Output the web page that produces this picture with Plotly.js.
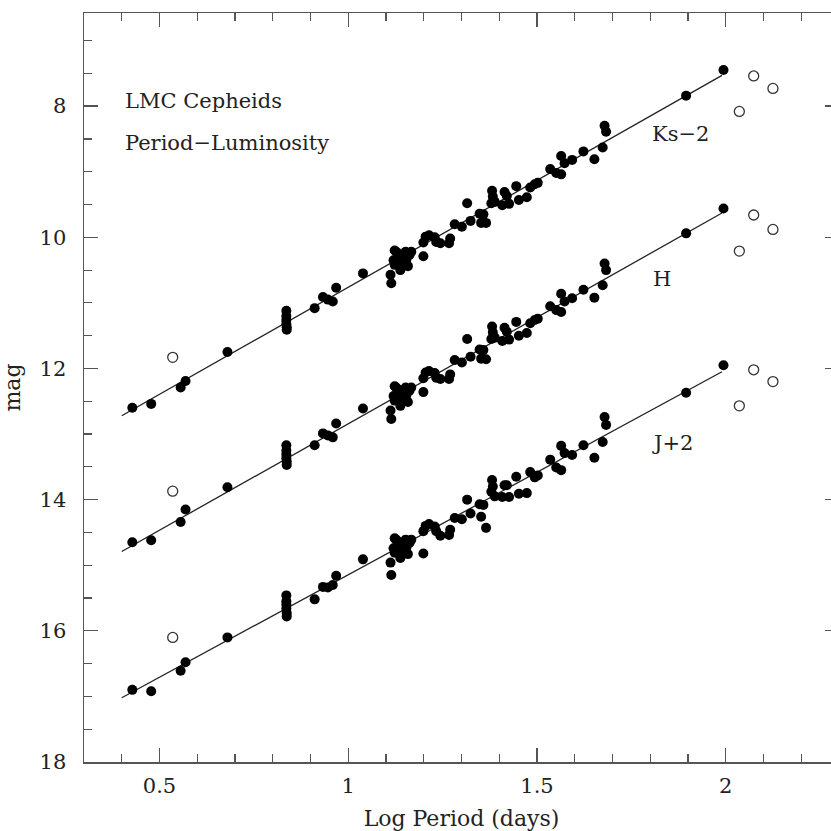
<!DOCTYPE html>
<html>
<head>
<meta charset="utf-8">
<script src="https://cdn.plot.ly/plotly-3.0.1.min.js"></script>
<style>
html,body{margin:0;padding:0;overflow:hidden;background:#fff;width:831px;height:831px;}
#wrap{width:831px;height:831px;overflow:hidden;position:relative;}
#chart{width:845px;height:831px;position:absolute;left:0;top:0;}
</style>
</head>
<body>
<div id="wrap"><div id="chart"></div></div>
<script>
// Log period of each Cepheid (same stars in all three bands)
const logP = [0.428,0.478,0.556,0.569,0.680,
  0.836,0.836,0.836,0.836,0.837,0.837,
  0.911,0.933,0.946,0.959,0.968,1.039,
  1.112,1.114,1.123,1.127,1.134,1.138,1.143,1.152,1.158,1.162,1.146,1.131,1.120,1.140,1.123,1.154,1.167,
  1.199,1.199,1.205,1.214,1.229,1.233,1.244,1.267,1.270,1.282,1.301,1.315,1.324,1.348,1.352,1.358,1.365,
  1.381,1.383,1.379,1.388,1.408,1.414,1.420,1.426,1.445,1.452,1.473,1.482,1.494,1.502,
  1.535,1.551,1.564,1.573,1.564,1.593,1.623,1.652,1.674,1.679,1.683,1.895,1.994];
// Ks - 2 magnitudes
const magKs = [12.60,12.54,12.29,12.19,11.75,
  11.12,11.20,11.26,11.32,11.37,11.41,
  11.08,10.91,10.95,10.98,10.77,10.55,
  10.57,10.70,10.42,10.22,10.35,10.50,10.26,10.22,10.44,10.27,10.37,10.29,10.35,10.32,10.20,10.34,10.22,
  10.08,10.29,9.99,9.97,10.00,10.07,10.09,10.09,10.02,9.80,9.84,9.48,9.75,9.64,9.78,9.65,9.78,
  9.29,9.38,9.48,9.46,9.51,9.31,9.37,9.49,9.22,9.43,9.39,9.24,9.19,9.17,
  8.96,9.02,8.76,8.87,9.04,8.82,8.69,8.81,8.63,8.30,8.39,7.84,7.45];
// H magnitudes
const magH = [14.65,14.62,14.34,14.15,13.81,
  13.17,13.25,13.31,13.37,13.42,13.47,
  13.17,12.99,13.02,13.05,12.84,12.61,
  12.64,12.77,12.49,12.29,12.42,12.57,12.33,12.29,12.51,12.34,12.44,12.36,12.42,12.39,12.27,12.41,12.29,
  12.15,12.36,12.06,12.04,12.07,12.14,12.16,12.16,12.09,11.87,11.91,11.55,11.82,11.71,11.85,11.72,11.86,
  11.36,11.45,11.55,11.53,11.58,11.38,11.44,11.56,11.29,11.50,11.46,11.31,11.26,11.24,
  11.05,11.11,10.86,10.98,11.14,10.93,10.80,10.92,10.73,10.40,10.50,9.94,9.56];
// J + 2 magnitudes
const magJ = [16.90,16.92,16.61,16.48,16.10,
  15.46,15.55,15.60,15.66,15.73,15.78,
  15.52,15.33,15.34,15.30,15.16,14.91,
  14.96,15.15,14.81,14.61,14.74,14.89,14.65,14.61,14.83,14.66,14.76,14.68,14.74,14.71,14.59,14.73,14.61,
  14.48,14.82,14.40,14.37,14.41,14.48,14.55,14.54,14.46,14.28,14.30,14.00,14.21,14.07,14.26,14.08,14.43,
  13.70,13.80,13.88,13.95,13.96,13.78,13.78,13.96,13.65,13.91,13.90,13.58,13.66,13.63,
  13.39,13.51,13.18,13.29,13.55,13.32,13.17,13.36,13.12,12.74,12.86,12.37,11.95];
// Excluded stars (open circles)
const logPOpen = [0.535,2.036,2.074,2.125];
const openKs = [11.83,8.08,7.54,7.73];
const openH = [13.87,10.21,9.66,9.88];
const openJ = [16.10,12.57,12.02,12.20];
// Fitted PL relations (end points)
const fitX = [0.40,1.99];
const fitKs = [12.72,7.53];
const fitH = [14.79,9.63];
const fitJ = [17.02,12.05];
// Labels
const bandLabels = ['Ks\u22122','H','J+2'];
const bandLabelX = [1.798,1.803,1.798];
const bandLabelY = [8.43,10.64,13.14];
const titleLines = ['LMC Cepheids','Period\u2212Luminosity'];
const titleY = [7.92,8.56];

const FONT = 'DejaVu Serif, Liberation Serif, serif';
const filled = {mode:'markers',type:'scatter',marker:{color:'#000',size:10,line:{width:0}},hoverinfo:'skip',showlegend:false};
const open = {mode:'markers',type:'scatter',marker:{color:'#333',size:10,symbol:'circle-open',line:{color:'#333',width:1.3}},hoverinfo:'skip',showlegend:false};
const fitStyle = {mode:'lines',type:'scatter',line:{color:'#222',width:1.3},hoverinfo:'skip',showlegend:false};

const traces = [];
[[fitKs],[fitH],[fitJ]].forEach(f=>traces.push(Object.assign({},fitStyle,{x:fitX,y:f[0]})));
[magKs,magH,magJ].forEach(m=>traces.push(Object.assign({},filled,{x:logP,y:m})));
[openKs,openH,openJ].forEach(m=>traces.push(Object.assign({},open,{x:logPOpen,y:m})));

const annotations = [];
titleLines.forEach((t,i)=>annotations.push({x:0.402,y:titleY[i],xref:'x',yref:'y',text:t,showarrow:false,xanchor:'left',yanchor:'middle',font:{family:FONT,size:21,color:'#222'}}));
bandLabels.forEach((t,i)=>annotations.push({x:bandLabelX[i],y:bandLabelY[i],xref:'x',yref:'y',text:t,showarrow:false,xanchor:'left',yanchor:'middle',font:{family:FONT,size:21,color:'#222'}}));

const axCommon = {showgrid:false,zeroline:false,showline:true,linecolor:'#555',linewidth:1.5,
  ticks:'inside',ticklen:14,tickwidth:1.3,tickcolor:'#555',mirror:'allticks',
  tickfont:{family:FONT,size:21,color:'#222'}};

const layout = {
  width:845,height:831,
  margin:{l:84,r:6,t:13,b:69},
  paper_bgcolor:'#fff',plot_bgcolor:'#fff',
  xaxis:Object.assign({},axCommon,{range:[0.3,2.3],tick0:0,dtick:0.5,
    minor:{dtick:0.1,ticks:'inside',ticklen:8,tickwidth:1.2,tickcolor:'#555'},
    ticklabelstandoff:4,
    title:{text:'Log Period (days)',font:{family:FONT,size:22,color:'#222'},standoff:14}}),
  yaxis:Object.assign({},axCommon,{range:[18,6.58],tick0:0,dtick:2,
    minor:{dtick:0.5,ticks:'inside',ticklen:8,tickwidth:1.2,tickcolor:'#555'},
    ticklabelstandoff:12,
    title:{text:'mag',font:{family:FONT,size:22,color:'#222'},standoff:16}}),
  annotations:annotations
};
Plotly.newPlot('chart',traces,layout,{staticPlot:true,displayModeBar:false});
</script>
</body>
</html>
